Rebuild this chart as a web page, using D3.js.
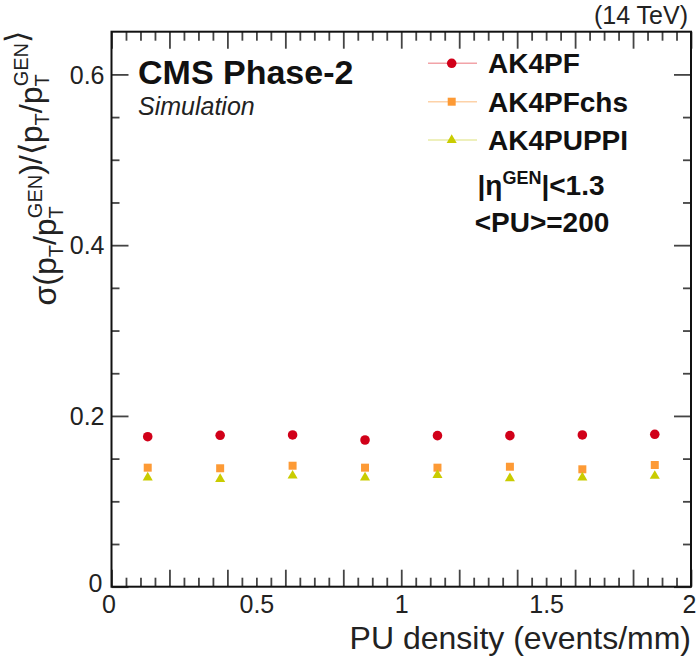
<!DOCTYPE html>
<html>
<head>
<meta charset="utf-8">
<script src="https://cdn.jsdelivr.net/npm/d3@7"></script>
<style>
  html, body { margin: 0; padding: 0; background: #fff; }
  svg { display: block; font-family: "Liberation Sans", Arial, Helvetica, sans-serif; }
</style>
</head>
<body>
<svg id="chart" width="697" height="663"></svg>
<script>
// ---- data ----
const puDensity = [0.125, 0.375, 0.625, 0.875, 1.125, 1.375, 1.625, 1.875];
const ak4pf     = [0.1757, 0.1773, 0.1777, 0.1718, 0.1769, 0.1769, 0.1777, 0.1785];
const ak4pfchs  = [0.1394, 0.1387, 0.1417, 0.1394, 0.1394, 0.1405, 0.1375, 0.1425];
const ak4puppi  = [0.1277, 0.1261, 0.1300, 0.1277, 0.1308, 0.1270, 0.1277, 0.1297];
const seriesNames = ["AK4PF", "AK4PFchs", "AK4PUPPI"];
const xTickLabels = [0, 0.5, 1, 1.5, 2];
const yTickLabels = [0, 0.2, 0.4, 0.6];

const seriesStyle = [
  { name: seriesNames[0], values: ak4pf,    color: "#d10019", line: "#f2a3a8", symbol: d3.symbolCircle,   size: 72 },
  { name: seriesNames[1], values: ak4pfchs, color: "#fd9a35", line: "#fdd2a8", symbol: d3.symbolSquare,   size: 64 },
  { name: seriesNames[2], values: ak4puppi, color: "#c9cc00", line: "#e9eba6", symbol: d3.symbolTriangle, size: 44 }
];

const svg = d3.select("#chart");
const L = 111.5, R = 691, T = 31.7, B = 586.7;
const x = d3.scaleLinear().domain([0, 2]).range([L, R]);
const y = d3.scaleLinear().domain([0, 0.65]).range([B, T]);

const xMajor = d3.range(0, 2.0001, 0.2);
const xMinor = d3.range(0, 2.0001, 0.05).filter(v => Math.abs(v / 0.2 - Math.round(v / 0.2)) > 1e-6);
const yMajor = d3.range(0, 0.65, 0.2);
const yMinor = d3.range(0, 0.65, 0.05).filter(v => Math.abs(v / 0.2 - Math.round(v / 0.2)) > 1e-6);

function tickAxis(axisFn, scale, vals, len, tr) {
  const g = svg.append("g").attr("transform", tr)
    .call(axisFn(scale).tickValues(vals).tickSizeInner(-len).tickSizeOuter(0).tickFormat(""));
  g.select(".domain").remove();
  g.selectAll(".tick line").attr("stroke", "#444").attr("stroke-width", 1.8);
}
// bottom & top
tickAxis(d3.axisBottom, x, xMajor, 17, `translate(0,${B})`);
tickAxis(d3.axisBottom, x, xMinor, 9,  `translate(0,${B})`);
tickAxis(d3.axisTop,    x, xMajor, 17, `translate(0,${T})`);
tickAxis(d3.axisTop,    x, xMinor, 9,  `translate(0,${T})`);
// left & right
tickAxis(d3.axisLeft,  y, yMajor, 17, `translate(${L},0)`);
tickAxis(d3.axisLeft,  y, yMinor, 8,  `translate(${L},0)`);
tickAxis(d3.axisRight, y, yMajor, 17, `translate(${R},0)`);
tickAxis(d3.axisRight, y, yMinor, 8,  `translate(${R},0)`);

// frame
svg.append("rect").attr("x", L).attr("y", T).attr("width", R - L).attr("height", B - T)
  .attr("fill", "none").attr("stroke", "#111").attr("stroke-width", 2);

// x tick labels
const xl = svg.append("g").attr("transform", `translate(0,${B})`)
  .call(d3.axisBottom(x).tickValues(xTickLabels).tickSize(0).tickPadding(0).tickFormat(d => d3.format("~g")(d)));
xl.select(".domain").remove();
xl.selectAll(".tick text").attr("font-size", 25).attr("fill", "#222")
  .attr("font-family", "Liberation Sans, Arial, sans-serif")
  .attr("dy", null).attr("y", 26)
  .attr("dx", d => d === 0 ? -3 : (d === 2 ? -2 : 0));

// y tick labels
const yl = svg.append("g").attr("transform", `translate(${L},0)`)
  .call(d3.axisLeft(y).tickValues(yTickLabels).tickSize(0).tickPadding(7).tickFormat(d => d3.format("~g")(d)));
yl.select(".domain").remove();
yl.selectAll(".tick text").attr("font-size", 25).attr("fill", "#222")
  .attr("font-family", "Liberation Sans, Arial, sans-serif")
  .attr("dy", d => d === 0 ? "0.2em" : "0.35em")
  .attr("x", d => d === 0 ? -9 : -7);

// data markers
seriesStyle.forEach(s => {
  svg.append("g").selectAll("path").data(s.values).join("path")
    .attr("d", d3.symbol().type(s.symbol).size(s.size))
    .attr("transform", (v, i) => `translate(${x(puDensity[i])},${y(v)})`)
    .attr("fill", s.color);
});

// legend
const legY = [63.3, 101.7, 140];
seriesStyle.forEach((s, i) => {
  const g = svg.append("g");
  g.append("line").attr("x1", 428).attr("x2", 477).attr("y1", legY[i]).attr("y2", legY[i])
    .attr("stroke", s.line).attr("stroke-width", 1.5);
  g.append("path").attr("d", d3.symbol().type(s.symbol).size(s.size))
    .attr("transform", `translate(451.7,${legY[i]})`).attr("fill", s.color);
  g.append("text").attr("x", 488).attr("y", legY[i] + 10).attr("font-size", 28)
    .attr("font-weight", "bold").attr("fill", "#111").text(s.name);
});

// eta / PU text
const eta = svg.append("text").attr("x", 541).attr("y", 195).attr("text-anchor", "middle")
  .attr("font-size", 28).attr("font-weight", "bold").attr("fill", "#111");
eta.append("tspan").text("|η");
eta.append("tspan").attr("font-size", 18).attr("dy", -11).text("GEN");
eta.append("tspan").attr("dy", 11).text("|<1.3");
svg.append("text").attr("x", 542).attr("y", 232).attr("text-anchor", "middle")
  .attr("font-size", 28).attr("font-weight", "bold").attr("fill", "#111").text("<PU>=200");

// header texts
svg.append("text").attr("x", 138).attr("y", 84).attr("font-size", 34).attr("font-weight", "bold")
  .attr("fill", "#111").text("CMS Phase-2");
svg.append("text").attr("x", 138).attr("y", 115).attr("font-size", 25).attr("font-style", "italic")
  .attr("fill", "#222").text("Simulation");
svg.append("text").attr("x", 688).attr("y", 24).attr("text-anchor", "end").attr("font-size", 25)
  .attr("fill", "#222").text("(14 TeV)");

// x axis title
svg.append("text").attr("x", 691).attr("y", 649).attr("text-anchor", "end").attr("font-size", 32)
  .attr("fill", "#222").text("PU density (events/mm)");

// y axis title (rotated, right-aligned to top of axis)
const yt = svg.append("text").attr("transform", "translate(56,31) rotate(-90)")
  .attr("text-anchor", "end").attr("font-size", 32).attr("fill", "#222");
function pTGen(t) {
  t.append("tspan").text("p");
  t.append("tspan").attr("font-size", 20).attr("dy", 7).text("T");
  t.append("tspan").attr("font-size", 20).attr("dx", -12).attr("dy", -21).text("GEN");
  t.append("tspan").attr("dy", 14).text("");
}
yt.append("tspan").text("σ(p");
yt.append("tspan").attr("font-size", 20).attr("dy", 7).text("T");
yt.append("tspan").attr("dy", -7).text("/");
pTGen(yt);
yt.append("tspan").text(")/⟨p");
yt.append("tspan").attr("font-size", 20).attr("dy", 7).text("T");
yt.append("tspan").attr("dy", -7).text("/");
pTGen(yt);
yt.append("tspan").text("⟩");
</script>
</body>
</html>
